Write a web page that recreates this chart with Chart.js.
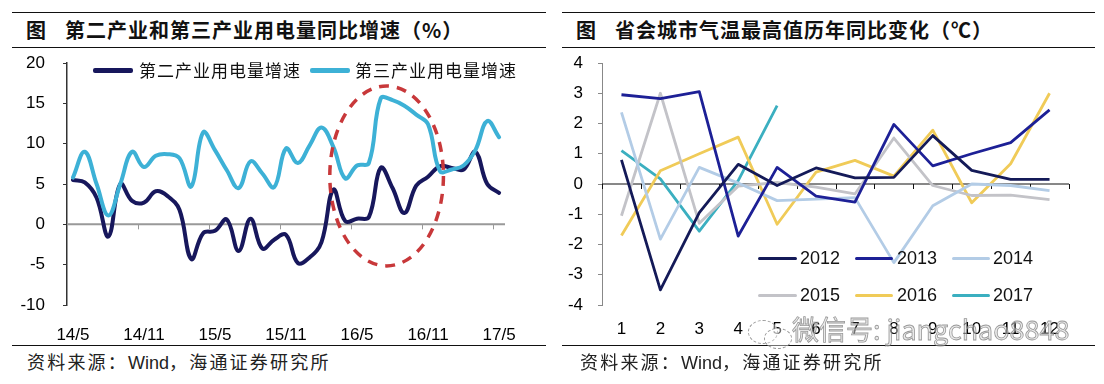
<!DOCTYPE html>
<html><head><meta charset="utf-8">
<script src="https://cdn.jsdelivr.net/npm/chart.js@4.4.1/dist/chart.umd.min.js"></script>
<style>
html,body{margin:0;padding:0;background:#fff;}
body{width:1104px;height:384px;position:relative;overflow:hidden;font-family:"Noto Sans CJK SC","Noto Sans",sans-serif;}
.rule{position:absolute;height:0;border-top:1.5px solid #111;}
.title{position:absolute;top:18px;font-size:20px;font-weight:bold;letter-spacing:1px;color:#111;line-height:24px;white-space:nowrap;}
.src{position:absolute;top:350px;font-size:18px;letter-spacing:2.2px;color:#222;line-height:22px;white-space:nowrap;}
canvas{position:absolute;top:0;}
.leg{position:absolute;white-space:nowrap;color:#111;}
.sw{position:absolute;height:0;}
.wm{position:absolute;left:792px;top:313px;font-size:27px;line-height:32px;white-space:nowrap;color:rgba(215,215,215,0.55);-webkit-text-stroke:0.8px rgba(120,120,120,0.75);font-family:"Noto Sans CJK SC","Liberation Sans",sans-serif;}
.bub{position:absolute;border:1.3px dashed rgba(130,130,130,0.8);border-radius:50%;background:rgba(255,255,255,0.4);}
</style></head>
<body>
<div class="rule" style="left:12px;width:534px;top:12px"></div>
<div class="rule" style="left:12px;width:534px;top:47px"></div>
<div class="rule" style="left:562px;width:533px;top:12px"></div>
<div class="rule" style="left:562px;width:533px;top:47px"></div>
<div class="title" style="left:26px">图<span style="margin-left:18px">第二产业和第三产业用电量同比增速（%）</span></div>
<div class="title" style="left:576px">图<span style="margin-left:18px">省会城市气温最高值历年同比变化（℃）</span></div>

<canvas id="c1" width="552" height="345" style="left:0"></canvas>
<canvas id="c2" width="552" height="345" style="left:552px"></canvas>

<div id="legL"></div>
<div id="legR"></div>

<div class="rule" style="left:12px;width:534px;top:345px"></div>
<div class="rule" style="left:562px;width:533px;top:345px"></div>
<div class="src" style="left:27px">资料来源：<span style="font-family:'Liberation Sans';letter-spacing:0">Wind</span>，海通证券研究所</div>
<div class="src" style="left:580px">资料来源：<span style="font-family:'Liberation Sans';letter-spacing:0">Wind</span>，海通证券研究所</div>

<div class="bub" style="left:748px;top:320px;width:28px;height:22px"></div>
<div class="bub" style="left:764px;top:328px;width:26px;height:19px"></div>
<div class="wm">微信号: jiangchao8848</div>

<script>
// ---------- Left chart data ----------
const months = ['14/5','14/6','14/7','14/8','14/9','14/10','14/11','14/12',
  '15/1','15/2','15/3','15/4','15/5','15/6','15/7','15/8','15/9','15/10','15/11','15/12',
  '16/1','16/2','16/3','16/4','16/5','16/6','16/7','16/8','16/9','16/10','16/11','16/12',
  '17/1','17/2','17/3','17/4','17/5'];
const monthTickLabels = ['14/5','14/11','15/5','15/11','16/5','16/11','17/5'];
const secondaryLabel = '第二产业用电量增速';
const tertiaryLabel = '第三产业用电量增速';
const secondary = [5.5,5.2,3.3,-1.5,5.0,2.9,2.7,4.1,3.5,1.8,-4.3,-1.1,-0.8,0.6,-3.3,0.7,-3.0,-1.9,-1.3,
  -4.8,-4.1,-2.2,4.3,0.4,0.7,0.9,7.0,4.5,1.4,4.8,5.9,7.2,7.0,6.8,9.0,5.0,3.9];
const tertiary = [5.8,9.0,5.0,1.1,5.0,9.0,7.1,8.5,8.7,8.2,4.7,11.4,9.2,6.7,4.5,7.8,6.3,4.6,9.4,
  7.6,9.8,12.0,9.6,5.7,7.3,7.6,15.6,15.4,14.7,13.6,12.4,6.6,6.8,7.3,9.2,12.8,10.8];
const leftYTicks = [-10,-5,0,5,10,15,20];
// highlighted region (data units: category index / value)
const highlight = {centerIndex:26.5, centerValue:6, halfMonths:4.8, halfValue:11.15};

// ---------- Right chart data ----------
const monthNums = ['1','2','3','4','5','6','7','8','9','10','11','12'];
const yearLabels = ['2012','2013','2014','2015','2016','2017'];
const t2012 = [0.8,-3.5,-0.95,0.65,-0.05,0.53,0.2,0.22,1.6,0.45,0.15,0.15];
const t2013 = [2.95,2.82,3.05,-1.72,0.55,-0.4,-0.6,1.97,0.6,1.0,1.37,2.45];
const t2014 = [2.37,-1.82,0.55,0.03,-0.55,-0.5,-0.45,-2.6,-0.72,0.0,-0.05,-0.22];
const t2015 = [-1.05,3.0,-1.3,-0.07,0.05,-0.1,-0.33,1.52,-0.05,-0.38,-0.37,-0.52];
const t2016 = [-1.7,0.44,1.0,1.55,-1.33,0.39,0.78,0.26,1.78,-0.62,0.67,3.0];
const t2017 = [1.1,0.17,-1.56,0.11,2.59];
const rightYTicks = [-4,-3,-2,-1,0,1,2,3,4];

const DARK = '#17175c', LIGHT = '#3db1d6';
const yearColors = ['#141a58','#1d2096','#b3cce6','#c3c3c8','#f0cb58','#3bafc0'];
const FONT = "'Liberation Sans', Arial, sans-serif";

function axisDecor(id, color, width, every, includeEnd){
  return {id, beforeDatasetsDraw(chart){
    const {ctx, chartArea:a, scales:{x,y}} = chart;
    const y0 = y.getPixelForValue(0);
    ctx.save();
    ctx.strokeStyle = color; ctx.lineWidth = width;
    ctx.beginPath(); ctx.moveTo(a.left, y0); ctx.lineTo(a.right, y0); ctx.stroke();
    ctx.lineWidth = 1;
    ctx.beginPath();
    const n = chart.data.labels.length;
    const last = includeEnd ? n : n - 1;
    for (let j = 0; j <= last; j += every){
      const px = Math.round(x.getPixelForValue(j - 0.5)) + 0.5;
      ctx.moveTo(px, y0); ctx.lineTo(px, y0 + 5);
    }
    ctx.stroke(); ctx.restore();
  }};
}
const ellipsePlugin = {id:'ellipse', afterDatasetsDraw(chart){
  const {ctx, scales:{x,y}} = chart;
  const cx = x.getPixelForValue(highlight.centerIndex);
  const cy = y.getPixelForValue(highlight.centerValue);
  const rx = Math.abs(x.getPixelForValue(highlight.centerIndex + highlight.halfMonths) - cx);
  const ry = Math.abs(y.getPixelForValue(highlight.centerValue + highlight.halfValue) - cy);
  ctx.save();
  ctx.strokeStyle = '#c8383a'; ctx.lineWidth = 3.5; ctx.setLineDash([10, 8]);
  ctx.beginPath(); ctx.ellipse(cx, cy, rx, ry, 0, 0, Math.PI*2); ctx.stroke();
  ctx.restore();
}};

new Chart(document.getElementById('c1'), {
  type:'line',
  data:{labels:months, datasets:[
    {label:secondaryLabel, data:secondary, borderColor:DARK, borderWidth:4, pointRadius:0, tension:0.4, borderJoinStyle:'round', borderCapStyle:'round', order:1},
    {label:tertiaryLabel, data:tertiary, borderColor:LIGHT, borderWidth:4, pointRadius:0, tension:0.4, borderJoinStyle:'round', borderCapStyle:'round', order:0}
  ]},
  options:{responsive:false, animation:false, events:[],
    layout:{padding:{left:0,right:47,top:63,bottom:0}},
    plugins:{legend:{display:false}, tooltip:{enabled:false}},
    scales:{
      x:{type:'category', offset:true, grid:{display:false}, border:{display:false},
        ticks:{autoSkip:false, maxRotation:0, minRotation:0, padding:12, color:'#000', font:{family:FONT, size:17},
          callback:(v,i)=> monthTickLabels.includes(months[i]) ? months[i] : ''},
        afterFit:s=>{s.height=40;}},
      y:{min:leftYTicks[0], max:leftYTicks[leftYTicks.length-1],
        afterBuildTicks:s=>{s.ticks = leftYTicks.map(v=>({value:v}));},
        ticks:{padding:18, color:'#000', font:{family:FONT, size:17}},
        grid:{drawOnChartArea:false, drawTicks:true, tickLength:4, color:'#333'},
        border:{color:'#333', width:1.5},
        afterFit:s=>{s.width=67;}}
    }},
  plugins:[axisDecor('zl', '#999', 2, 6, false), ellipsePlugin]
});

const yearData = [t2012,t2013,t2014,t2015,t2016,t2017];
new Chart(document.getElementById('c2'), {
  type:'line',
  data:{labels:monthNums, datasets: yearLabels.map((l,i)=>({label:l, data:yearData[i], borderColor:yearColors[i], borderWidth:2.8, pointRadius:0, tension:0, borderJoinStyle:'round'}))},
  options:{responsive:false, animation:false, events:[],
    layout:{padding:{left:0,right:35,top:63,bottom:0}},
    plugins:{legend:{display:false}, tooltip:{enabled:false}},
    scales:{
      x:{type:'category', offset:true, grid:{display:false}, border:{display:false},
        ticks:{autoSkip:false, maxRotation:0, minRotation:0, padding:6, color:'#000', font:{family:FONT, size:17}},
        afterFit:s=>{s.height=40;}},
      y:{min:rightYTicks[0], max:rightYTicks[rightYTicks.length-1],
        afterBuildTicks:s=>{s.ticks = rightYTicks.map(v=>({value:v}));},
        ticks:{padding:15, color:'#000', font:{family:FONT, size:17}},
        grid:{drawOnChartArea:false, drawTicks:true, tickLength:4, color:'#888'},
        border:{color:'#888', width:1},
        afterFit:s=>{s.width=50;}}
    }},
  plugins:[axisDecor('zr', '#111', 1, 1, true)]
});

// ---------- legends (HTML text) ----------
function legItem(parent, x0, x1, y, color, thick, text, tx, font){
  const sw = document.createElement('div'); sw.className='sw';
  sw.style.cssText = `left:${x0}px;width:${x1-x0}px;top:${y-thick/2}px;border-top:${thick}px solid ${color};border-radius:2px`;
  parent.appendChild(sw);
  const t = document.createElement('div'); t.className='leg'; t.textContent=text;
  t.style.cssText += `left:${tx}px;top:${y-11}px;line-height:22px;${font}`;
  parent.appendChild(t);
}
const legL = document.getElementById('legL');
const cjkFont = "font-family:'Noto Sans CJK SC';font-size:17px;letter-spacing:1px;";
legItem(legL, 93, 133, 70, DARK, 5, secondaryLabel, 139, cjkFont);
legItem(legL, 310, 350, 70, LIGHT, 5, tertiaryLabel, 355, cjkFont);
const legR = document.getElementById('legR');
const latFont = "font-family:'Liberation Sans';font-size:18px;";
const legCols = [[758,797,800],[855,893,897],[952,990,993]];
const legRows = [258, 295];
yearLabels.forEach((l,i)=>{
  const c = legCols[i%3], r = legRows[Math.floor(i/3)];
  legItem(legR, c[0], c[1], r, yearColors[i], 3, l, c[2], latFont);
});
</script>
</body></html>
